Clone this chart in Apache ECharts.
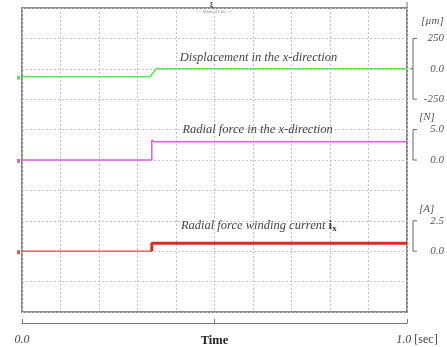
<!DOCTYPE html>
<html><head><meta charset="utf-8">
<script src="https://cdn.jsdelivr.net/npm/echarts@6/dist/echarts.min.js"></script>
<style>html,body{margin:0;padding:0;background:#fff}#c{width:447px;height:347px}</style>
</head><body><div id="c"></div>
<script>
// ---- data ----
const timeLabels = {0: '0.0', 0.5: 'Time', 1: '1.0'};
const timeUnit = '[sec]';
const dispTime  = [0, 0.332, 0.350, 0.360, 1.0];
const dispValue = [-65, -65, 5, 0, 0];            // µm
const forceTime  = [0, 0.337, 0.337, 0.343, 1.0];
const forceValue = [0, 0, 3.3, 3.0, 3.0];          // N
const currTimeBefore  = [0, 0.337];
const currValueBefore = [0, 0];                    // A
const currTimeAfter   = [0.337, 0.337, 1.0];
const currValueAfter  = [0, 0.66, 0.66];
const dispTicks  = [250, 0, -250];
const forceTicks = [5, 0];
const currTicks  = [2.5, 0];
const titles = ['Displacement in the x-direction', 'Radial force in the x-direction', 'Radial force winding current '];
const units = ['[µm]', '[N]', '[A]'];

const zip = (a, b) => a.map((t, i) => [t, b[i]]);
const SERIF = 'Liberation Serif';
const fmt = ticks => v => {
  for (const t of ticks) if (Math.abs(v - t) < 1e-6) return Number.isInteger(t) && t !== 0 && Math.abs(t) >= 10 ? String(t) : t.toFixed(1);
  return '';
};
const labelStyle = {fontFamily: SERIF, fontStyle: 'italic', fontSize: 11, color: '#555', align: 'right', margin: 37};
const gridLine = {show: true, lineStyle: {color: '#c4c4c4', type: [2, 2], width: 1}};

const chart = echarts.init(document.getElementById('c'));
chart.setOption({
  animation: false,
  backgroundColor: '#fff',
  grid: {left: 22, right: 39, top: 8, bottom: 35, show: true, borderColor: '#888', borderWidth: 2, backgroundColor: 'transparent', containLabel: false},
  xAxis: [
    {type: 'value', min: 0, max: 1, interval: 0.1, axisLine: {show: false}, axisTick: {show: false}, axisLabel: {show: false}, splitLine: gridLine},
    {type: 'value', min: 0, max: 1, interval: 0.5, position: 'bottom', offset: 11,
     axisLine: {show: true, onZero: false, lineStyle: {color: '#777', width: 1.2}},
     axisTick: {show: true, inside: true, length: 4, lineStyle: {color: '#777'}},
     splitLine: {show: false},
     axisLabel: {margin: 11, fontFamily: SERIF, fontSize: 12, color: '#444',
       formatter: v => v === 0 ? '{i|' + timeLabels[0] + '}' : (v === 1 ? '{sp|}{i|' + timeLabels[1] + '} {u|' + timeUnit + '}' : '{b|' + timeLabels[0.5] + '}'),
       rich: {i: {fontFamily: SERIF, fontStyle: 'italic', fontSize: 12, color: '#444'},
              u: {fontFamily: SERIF, fontSize: 12, color: '#444'},
              sp: {width: 20},
              b: {fontFamily: SERIF, fontWeight: 'bold', fontSize: 12.5, color: '#222'}}}}
  ],
  yAxis: [
    {type: 'value', min: -2000, max: 500, interval: 250, position: 'right', axisLine: {show: false, onZero: false}, axisTick: {show: false}, splitLine: gridLine,
     axisLabel: Object.assign({formatter: fmt(dispTicks)}, labelStyle)},
    {type: 'value', min: -25, max: 25, interval: 5, position: 'right', axisLine: {show: false, onZero: false}, axisTick: {show: false}, splitLine: {show: false},
     axisLabel: Object.assign({formatter: fmt(forceTicks)}, labelStyle)},
    {type: 'value', min: -5, max: 20, interval: 2.5, position: 'right', axisLine: {show: false, onZero: false}, axisTick: {show: false}, splitLine: {show: false},
     axisLabel: Object.assign({formatter: fmt(currTicks)}, labelStyle)}
  ],
  series: [
    {type: 'line', xAxisIndex: 0, yAxisIndex: 0, data: zip(dispTime, dispValue), showSymbol: false, symbol: 'none',
     lineStyle: {color: '#5be55b', width: 1.6}, z: 5},
    {type: 'line', xAxisIndex: 0, yAxisIndex: 1, data: zip(forceTime, forceValue), showSymbol: false, symbol: 'none',
     lineStyle: {color: '#e45ee4', width: 1.6}, z: 5},
    {type: 'line', xAxisIndex: 0, yAxisIndex: 2, data: zip(currTimeBefore, currValueBefore), showSymbol: false, symbol: 'none',
     lineStyle: {color: '#e04848', width: 1.2}, z: 5},
    {type: 'line', xAxisIndex: 0, yAxisIndex: 2, data: zip(currTimeAfter, currValueAfter), showSymbol: false, symbol: 'none',
     lineStyle: {color: '#e02a2a', width: 3}, z: 5}
  ]
});

// decorations positioned through the axes
const px = (axis, v) => chart.convertToPixel({yAxisIndex: axis}, v);
const tx = v => chart.convertToPixel({xAxisIndex: 0}, v);
const xr = tx(1), xl = tx(0);
const bx = xr + 6;
const graphics = [];
function bracket(axis, top, bottom, mid) {
  const yt = px(axis, top), yb = px(axis, bottom);
  graphics.push({type: 'polyline', shape: {points: [[bx + 4, yt], [bx, yt], [bx, yb], [bx + 4, yb]]}, style: {stroke: '#666', lineWidth: 1, fill: null}});
  if (mid !== undefined) {
    const ym = px(axis, mid);
    graphics.push({type: 'line', shape: {x1: bx - 3, y1: ym, x2: bx, y2: ym}, style: {stroke: '#666', lineWidth: 1}});
  }
}
bracket(0, dispTicks[0], dispTicks[2], dispTicks[1]);
bracket(1, forceTicks[0], forceTicks[1]);
bracket(2, currTicks[0], currTicks[1]);
const unitStyle = {fontFamily: SERIF, fontStyle: 'italic', fontSize: 11, fill: '#555'};
graphics.push({type: 'text', x: xr + 14, y: px(0, dispTicks[0]) - 17, style: Object.assign({text: units[0], verticalAlign: 'middle'}, unitStyle)});
graphics.push({type: 'text', x: xr + 12, y: px(1, forceTicks[0]) - 12, style: Object.assign({text: units[1], verticalAlign: 'middle'}, unitStyle)});
graphics.push({type: 'text', x: xr + 12, y: px(2, currTicks[0]) - 12, style: Object.assign({text: units[2], verticalAlign: 'middle'}, unitStyle)});

const titleStyle = {fontFamily: SERIF, fontStyle: 'italic', fontSize: 12.5, fill: '#444', align: 'center', verticalAlign: 'middle'};
graphics.push({type: 'text', x: tx(0.614), y: px(0, 0) - 11, style: Object.assign({text: titles[0]}, titleStyle)});
graphics.push({type: 'text', x: tx(0.612), y: px(1, 5), style: Object.assign({text: titles[1]}, titleStyle)});
graphics.push({type: 'text', x: tx(0.615), y: px(2, 2.5) + 5, style: Object.assign({
  text: '{t|' + titles[2] + '}{b|i}{s|x}',
  rich: {t: {fontFamily: SERIF, fontStyle: 'italic', fontSize: 12.5, fill: '#444'},
         b: {fontFamily: SERIF, fontWeight: 'bold', fontSize: 13, fill: '#333'},
         s: {fontFamily: SERIF, fontWeight: 'bold', fontSize: 9, fill: '#333', padding: [5, 0, 0, 0]}}}, titleStyle)});

// tiny oscilloscope markers
graphics.push({type: 'text', x: (xl + xr) / 2, y: 12, style: {text: '<< Marked Line >>', fontFamily: SERIF, fontSize: 4.5, fill: '#888', align: 'center', verticalAlign: 'middle'}});
graphics.push({type: 'text', x: (xl + xr) / 2 - 3, y: 4, style: {text: 'ξ', fontFamily: SERIF, fontSize: 7, fontWeight: 'bold', fill: '#333', align: 'center', verticalAlign: 'middle'}});
graphics.push({type: 'line', shape: {x1: xr, y1: 2, x2: xr, y2: 8}, style: {stroke: '#777', lineWidth: 1}});
// channel markers at left edge
[[0, dispValue[0], '#5be55b'], [1, forceValue[0], '#e45ee4'], [2, currValueBefore[0], '#e65050']].forEach(([a, v, c]) => {
  const y = px(a, v);
  graphics.push({type: 'rect', shape: {x: xl - 5, y: y - 1, width: 3, height: 4}, style: {fill: c}});
});
chart.setOption({graphic: graphics});
</script>
</body></html>
